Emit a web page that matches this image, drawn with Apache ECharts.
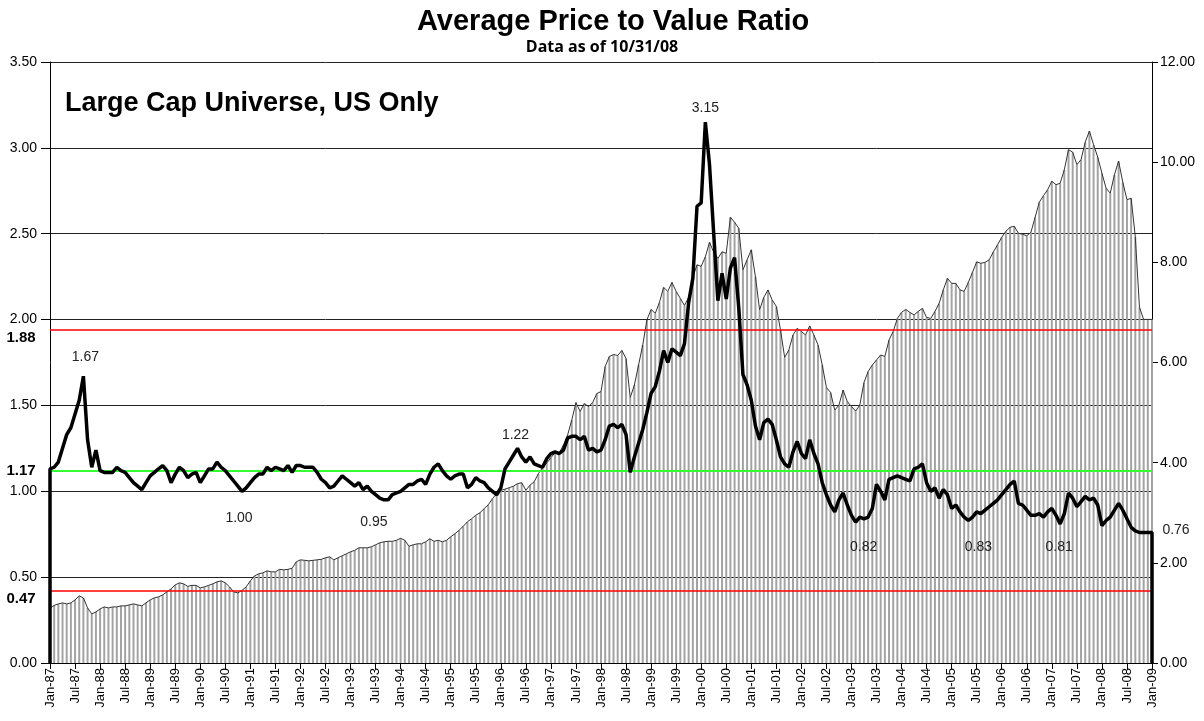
<!DOCTYPE html>
<html>
<head>
<meta charset="utf-8">
<script src="https://cdn.jsdelivr.net/npm/echarts@6/dist/echarts.min.js"></script>
<style>
  html, body { margin: 0; padding: 0; background: #fff; }
  #main { width: 1204px; height: 721px; }
</style>
</head>
<body>
<div id="main"></div>
<script>
// month labels Jan-87 .. Jan-09
const monNames = ['Jan','Feb','Mar','Apr','May','Jun','Jul','Aug','Sep','Oct','Nov','Dec']
const months = []
for (let y = 1987; y <= 2009; y++) {
  for (let m = 0; m < 12; m++) {
    if (y === 2009 && m > 0) break
    months.push(monNames[m] + '-' + String(y).slice(2))
  }
}

// average price to value ratio (left axis)
const ratio = [
  1.13, 1.14, 1.17, 1.25, 1.33, 1.37, 1.45, 1.53, 1.67, 1.30, 1.14, 1.24, // 87
  1.12, 1.11, 1.11, 1.11, 1.14, 1.12, 1.11, 1.08, 1.05, 1.03, 1.01, 1.05, // 88
  1.09, 1.11, 1.13, 1.15, 1.12, 1.05, 1.10, 1.14, 1.12, 1.08, 1.10, 1.11, // 89
  1.05, 1.09, 1.13, 1.13, 1.17, 1.14, 1.12, 1.09, 1.06, 1.03, 1.00, 1.02, // 90
  1.05, 1.08, 1.10, 1.10, 1.14, 1.12, 1.14, 1.13, 1.12, 1.15, 1.11, 1.15, // 91
  1.15, 1.14, 1.14, 1.14, 1.11, 1.07, 1.05, 1.02, 1.03, 1.06, 1.09, 1.07, // 92
  1.05, 1.03, 1.05, 1.01, 1.03, 1.00, 0.98, 0.96, 0.95, 0.95, 0.98, 0.99, // 93
  1.00, 1.02, 1.04, 1.04, 1.06, 1.07, 1.04, 1.10, 1.14, 1.16, 1.12, 1.09, // 94
  1.07, 1.09, 1.10, 1.10, 1.02, 1.04, 1.08, 1.06, 1.05, 1.02, 1.00, 0.98, // 95
  1.02, 1.13, 1.17, 1.21, 1.25, 1.20, 1.17, 1.20, 1.16, 1.15, 1.14, 1.19, // 96
  1.22, 1.23, 1.22, 1.24, 1.31, 1.32, 1.32, 1.30, 1.32, 1.24, 1.25, 1.23, // 97
  1.24, 1.30, 1.38, 1.39, 1.37, 1.39, 1.33, 1.11, 1.20, 1.28, 1.36, 1.46, // 98
  1.57, 1.61, 1.70, 1.82, 1.75, 1.83, 1.81, 1.79, 1.86, 2.10, 2.24, 2.66, // 99
  2.68, 3.15, 2.90, 2.50, 2.11, 2.27, 2.12, 2.30, 2.36, 2.07, 1.68, 1.62, // 00
  1.53, 1.38, 1.30, 1.40, 1.42, 1.39, 1.30, 1.20, 1.16, 1.14, 1.23, 1.29, // 01
  1.22, 1.19, 1.30, 1.22, 1.16, 1.05, 0.98, 0.92, 0.88, 0.95, 0.99, 0.92, // 02
  0.86, 0.82, 0.85, 0.84, 0.85, 0.90, 1.04, 1.00, 0.95, 1.07, 1.08, 1.09, // 03
  1.08, 1.07, 1.06, 1.13, 1.14, 1.16, 1.05, 1.00, 1.02, 0.96, 1.01, 0.98, // 04
  0.90, 0.92, 0.88, 0.85, 0.83, 0.85, 0.88, 0.87, 0.89, 0.91, 0.93, 0.95, // 05
  0.98, 1.01, 1.04, 1.06, 0.93, 0.92, 0.89, 0.86, 0.86, 0.87, 0.85, 0.88, // 06
  0.90, 0.86, 0.81, 0.87, 0.99, 0.96, 0.91, 0.94, 0.97, 0.95, 0.96, 0.92, // 07
  0.80, 0.83, 0.85, 0.89, 0.93, 0.89, 0.84, 0.79, 0.77, 0.76, 0.76, 0.76, // 08
  0.76
]

// market level shown as hatched area (right axis)
const level = [
  1.10, 1.15, 1.18, 1.20, 1.18, 1.20, 1.26, 1.34, 1.30, 1.10, 0.98, 1.02,
  1.08, 1.12, 1.10, 1.12, 1.12, 1.14, 1.14, 1.16, 1.18, 1.16, 1.14, 1.20,
  1.26, 1.30, 1.32, 1.36, 1.42, 1.48, 1.56, 1.60, 1.58, 1.53, 1.55, 1.55,
  1.50, 1.52, 1.55, 1.58, 1.62, 1.64, 1.60, 1.52, 1.42, 1.40, 1.45, 1.52,
  1.64, 1.74, 1.78, 1.80, 1.84, 1.82, 1.82, 1.87, 1.86, 1.87, 1.89, 2.02,
  2.06, 2.05, 2.04, 2.05, 2.06, 2.07, 2.10, 2.12, 2.06, 2.10, 2.14, 2.18,
  2.22, 2.25, 2.30, 2.30, 2.30, 2.32, 2.36, 2.40, 2.42, 2.43, 2.43, 2.45,
  2.49, 2.45, 2.33, 2.36, 2.38, 2.38, 2.42, 2.48, 2.43, 2.45, 2.42, 2.45,
  2.52, 2.58, 2.65, 2.73, 2.82, 2.88, 2.95, 3.00, 3.08, 3.16, 3.28, 3.38,
  3.45, 3.47, 3.50, 3.53, 3.58, 3.60, 3.45, 3.55, 3.62, 3.78, 3.90, 3.99,
  4.10, 4.20, 4.20, 4.35, 4.55, 4.85, 5.20, 5.02, 5.18, 5.12, 5.20, 5.38,
  5.42, 5.92, 6.12, 6.16, 6.14, 6.24, 6.08, 5.30, 5.55, 5.95, 6.35, 6.85,
  7.06, 6.98, 7.20, 7.50, 7.42, 7.60, 7.42, 7.28, 7.14, 7.30, 7.70, 7.95,
  7.92, 8.11, 8.40, 8.20, 8.08, 8.21, 8.18, 8.90, 8.80, 8.68, 7.85, 8.05,
  8.25, 7.71, 7.05, 7.30, 7.45, 7.25, 7.12, 6.65, 6.10, 6.25, 6.55, 6.68,
  6.62, 6.55, 6.73, 6.55, 6.35, 5.95, 5.50, 5.40, 5.05, 5.15, 5.45, 5.22,
  5.12, 5.03, 5.15, 5.60, 5.82, 5.95, 6.05, 6.15, 6.12, 6.45, 6.62, 6.88,
  7.00, 7.06, 7.00, 6.95, 7.02, 7.08, 6.90, 6.88, 7.02, 7.18, 7.45, 7.68,
  7.58, 7.58, 7.45, 7.42, 7.60, 7.80, 8.01, 7.98, 8.00, 8.05, 8.21, 8.35,
  8.50, 8.62, 8.70, 8.72, 8.58, 8.56, 8.53, 8.60, 8.90, 9.20, 9.33, 9.45,
  9.62, 9.55, 9.58, 9.85, 10.25, 10.20, 9.95, 10.05, 10.40, 10.62, 10.35, 10.10,
  9.78, 9.48, 9.38, 9.75, 10.02, 9.60, 9.25, 9.28, 8.51, 7.10, 6.86, 6.86,
  6.86
]

// reference lines (drawn position) and the labels printed beside them
const refLevels = [1.935, 1.12, 0.42]
const refLabels = ['1.88', '1.17', '0.47']
const refColors = ['#ff0000', '#33ff33', '#ff0000']
const refLabelDy = [7, 0, 8]

// point callouts on the ratio line
const calloutMonths = ['Sep-87', 'Nov-90', 'Sep-93', 'May-96', 'Feb-00', 'Feb-03', 'May-05', 'Mar-07', 'Jan-09']
const calloutTexts = ['1.67', '1.00', '0.95', '1.22', '3.15', '0.82', '0.83', '0.81', '0.76']
const calloutOffsets = [[2, -19], [-3, 27], [-10, 22], [-2, -13], [0, -14], [8, 25], [10, 27], [-1, 23], [24, -2]]

const font = 'Liberation Sans, Arial, sans-serif'

// line drops to zero at both ends, as in the source chart
const ratioLine = [[0, 0]].concat(ratio.map((v, i) => [i, v]), [[ratio.length - 1, 0]])

const markPts = calloutMonths.map((m, k) => {
  const i = months.indexOf(m)
  return {
    coord: [i, ratio[i]],
    label: { formatter: calloutTexts[k], offset: calloutOffsets[k] }
  }
}).concat(refLevels.map((v, k) => ({
  coord: [0, v],
  label: { formatter: refLabels[k], offset: [-29, refLabelDy[k]], fontWeight: 'bold', fontSize: 15, color: '#000' }
})))

const myChart = echarts.init(document.getElementById('main'))

myChart.setOption({
  animation: false,
  title: [
    {
      text: 'Average Price to Value Ratio',
      left: 412, top: 2,
      textStyle: { fontFamily: font, fontWeight: 'bold', fontSize: 29, color: '#000' }
    },
    {
      text: 'Data as of 10/31/08',
      left: 'center', top: 34,
      textStyle: { fontFamily: 'Open Sans, sans-serif', fontWeight: 'bold', fontSize: 16, color: '#000' }
    },
    {
      text: 'Large Cap Universe, US Only',
      left: 60, top: 85,
      textStyle: { fontFamily: font, fontWeight: 'bold', fontSize: 27, color: '#000' }
    }
  ],
  grid: { left: 50, right: 52, top: 62, bottom: 58 },
  xAxis: {
    type: 'category',
    data: months,
    boundaryGap: false,
    axisLine: { lineStyle: { color: '#000', width: 1 } },
    axisTick: { interval: 5, length: 6, lineStyle: { color: '#000' } },
    axisLabel: { interval: 5, rotate: 90, fontSize: 13, margin: 5, color: '#000', fontFamily: font },
    splitLine: { show: false }
  },
  yAxis: [
    {
      type: 'value', min: 0, max: 3.5, interval: 0.5, position: 'left',
      axisLine: { show: true, lineStyle: { color: '#000' } },
      axisTick: { show: true, length: 9, lineStyle: { color: '#000' } },
      axisLabel: { formatter: v => v.toFixed(2), fontSize: 14, color: '#000', fontFamily: font, margin: 13 },
      splitLine: { show: true, lineStyle: { color: '#222', width: 1 } }
    },
    {
      type: 'value', min: 0, max: 12, interval: 2, position: 'right',
      axisLine: { show: true, lineStyle: { color: '#000' } },
      axisTick: { show: true, length: 6, lineStyle: { color: '#000' } },
      axisLabel: { formatter: v => v.toFixed(2), fontSize: 14, color: '#000', fontFamily: font, margin: 8 },
      splitLine: { show: false }
    }
  ],
  series: [
    {
      name: 'Level',
      type: 'bar',
      yAxisIndex: 1,
      data: level,
      barWidth: 2,
      itemStyle: { color: '#a3a3a3' },
      z: 1
    },
    {
      name: 'Level outline',
      type: 'line',
      yAxisIndex: 1,
      data: level,
      symbol: 'none',
      lineStyle: { color: '#333', width: 1 },
      z: 2
    },
    {
      name: 'Average Price to Value',
      type: 'line',
      yAxisIndex: 0,
      data: ratioLine,
      symbol: 'none',
      lineStyle: { color: '#000', width: 3.5 },
      z: 5,
      markLine: {
        silent: true,
        symbol: 'none',
        label: { show: false },
        data: refLevels.map((v, k) => ({ yAxis: v, lineStyle: { color: refColors[k], type: 'solid', width: k === 1 ? 2 : 1.5 } }))
      },
      markPoint: {
        symbol: 'circle',
        symbolSize: 0,
        label: { show: true, position: 'inside', fontSize: 14, color: '#222', fontFamily: font },
        data: markPts
      }
    }
  ]
})
</script>
</body>
</html>
